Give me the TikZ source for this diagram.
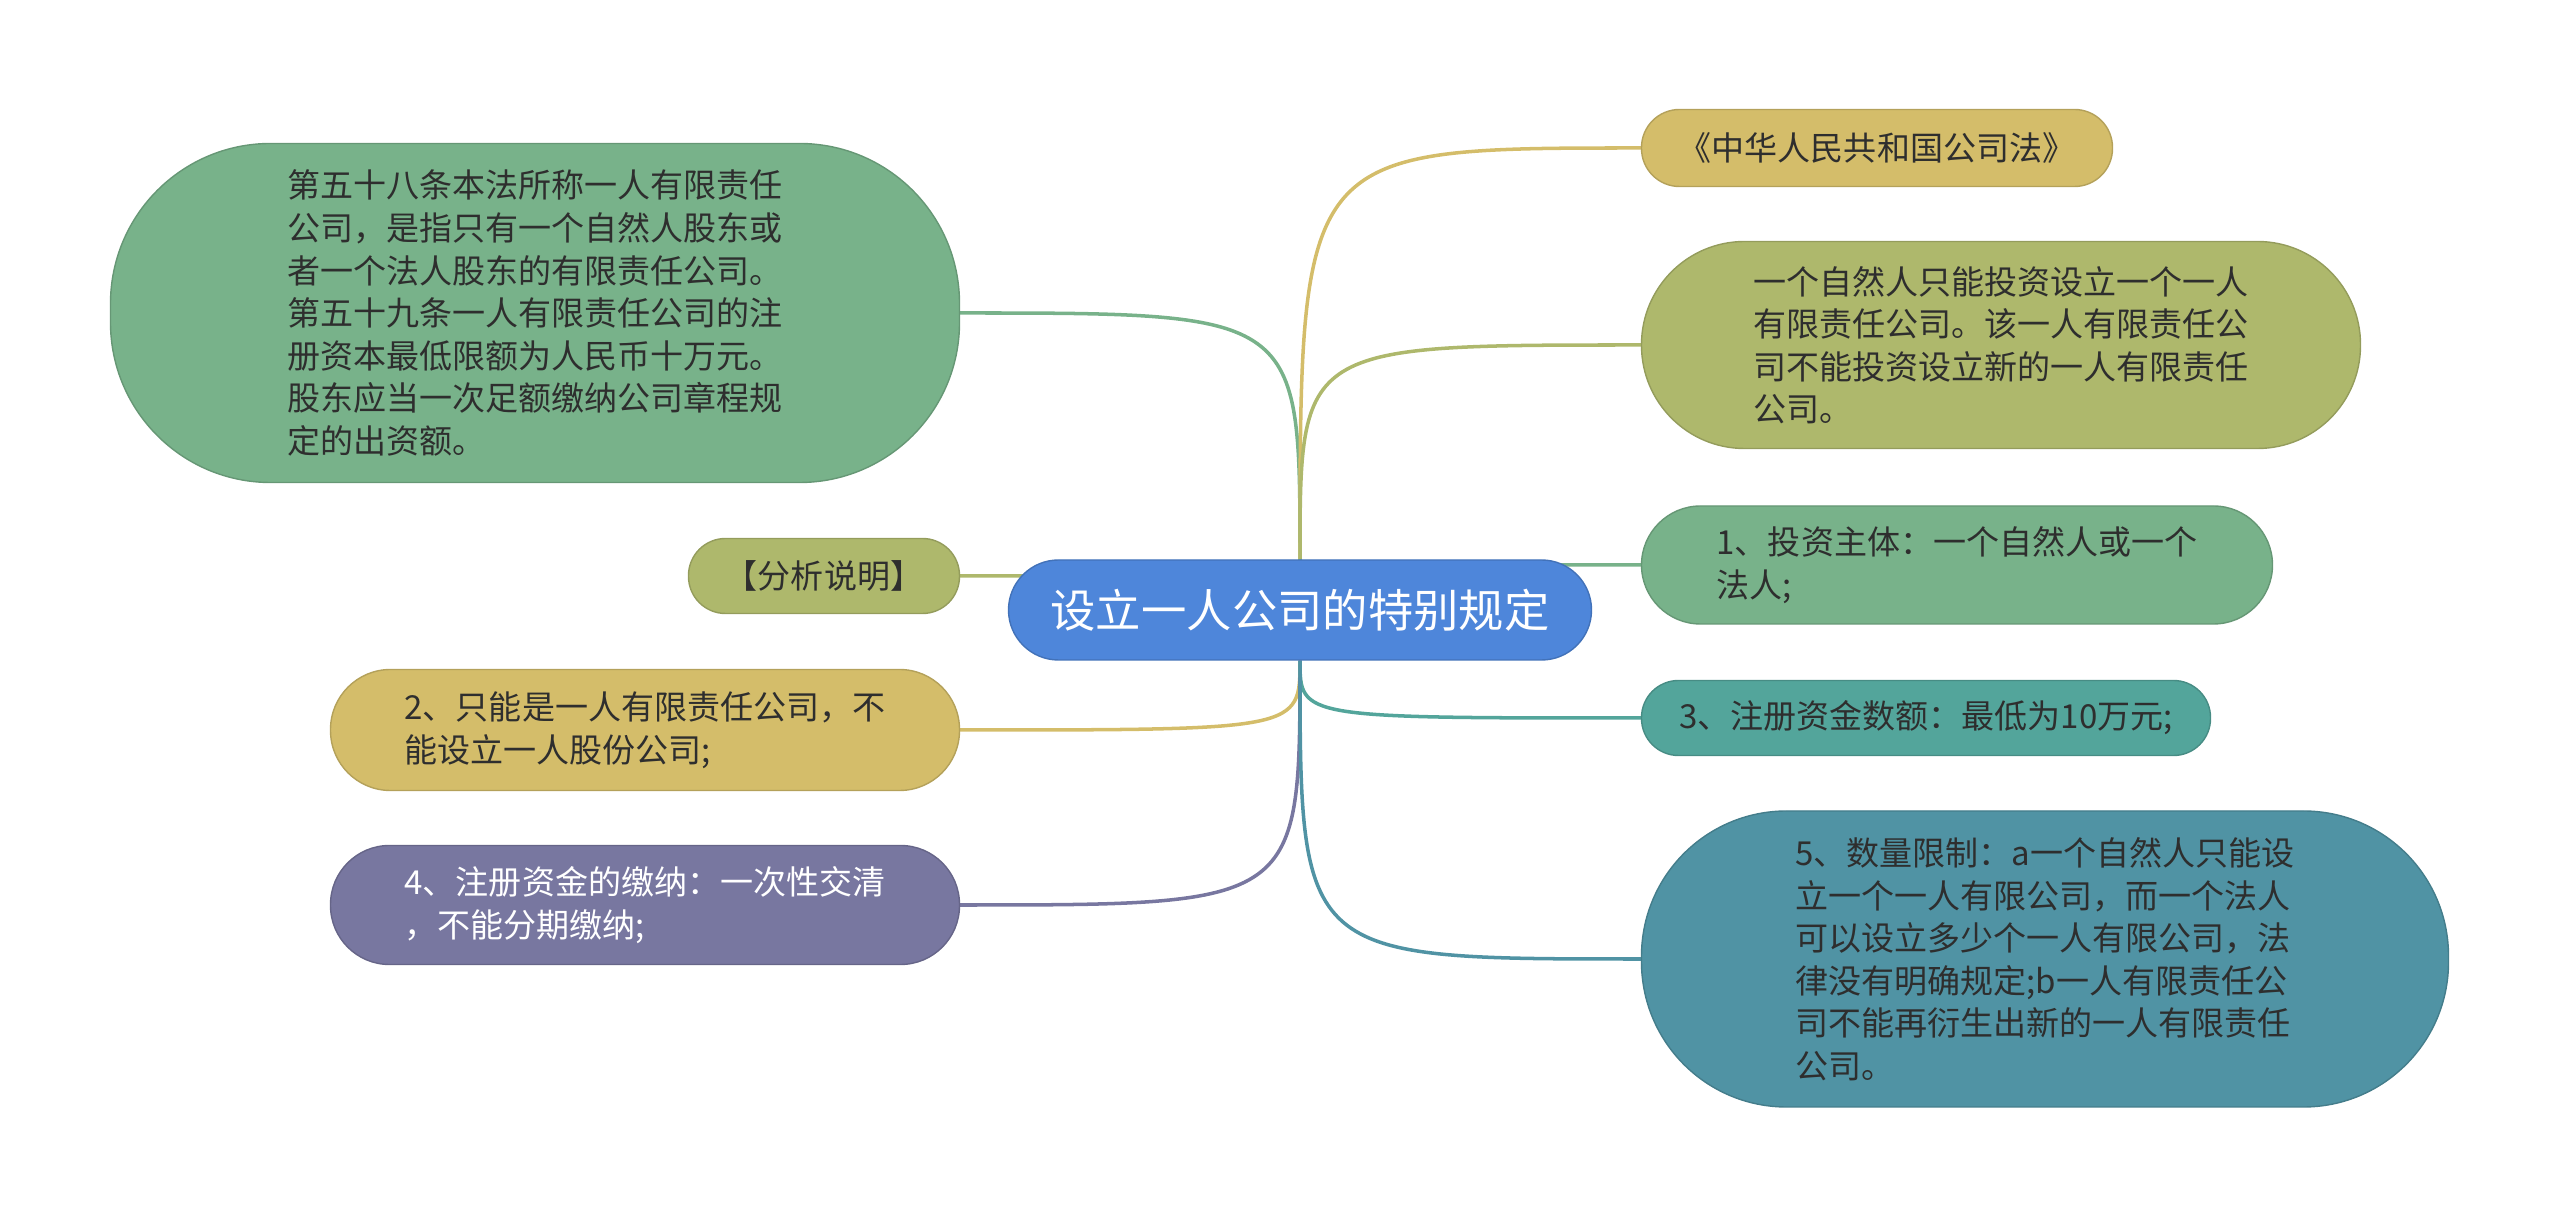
\documentclass[tikz,border=0pt]{standalone}
\usepackage{fontspec}
\setmainfont{Noto Sans CJK SC}
\usepackage{xcolor}
\usepackage{tikz}
\usetikzlibrary{positioning,backgrounds}
\definecolor{cText}{HTML}{2E2E2E}
\definecolor{cTopic}{HTML}{4E86DA}
\definecolor{cGreen}{HTML}{78B28A}
\definecolor{cOlive}{HTML}{AEB86C}
\definecolor{cTan}{HTML}{D4BD6A}
\definecolor{cPurple}{HTML}{7877A0}
\definecolor{cTeal}{HTML}{53A59B}
\definecolor{cSea}{HTML}{5093A4}
\tikzset{
  leaf/.style={thin, inner sep=0pt, align=left, text=cText,
               font=\fontsize{9.4}{12.1}\selectfont},
  topic/.style={leaf, fill=cTopic, draw=cTopic!85!black, text=white,
                font=\fontsize{12.9}{16}\selectfont,
                minimum width=58.3mm, minimum height=10mm, rounded corners=5mm},
  greenblk/.style={leaf, fill=cGreen, draw=cGreen!85!black},
  oliveblk/.style={leaf, fill=cOlive, draw=cOlive!85!black},
  tanblk/.style={leaf, fill=cTan, draw=cTan!85!black},
  purpleblk/.style={leaf, fill=cPurple, draw=cPurple!85!black, text=white},
  tealblk/.style={leaf, fill=cTeal, draw=cTeal!85!black},
  seablk/.style={leaf, fill=cSea, draw=cSea!85!black},
  link/.style={line width=1pt, draw=#1}
}
\begin{document}
\begin{tikzpicture}[x=0.1mm, y=-0.1mm]
\useasboundingbox (0,0) rectangle (2560,1218);
% ----- central topic -----
\node[topic] (topic) at (1300,610) {设立一人公司的特别规定};
% ----- left branches -----
\node[greenblk, minimum width=84.9mm, minimum height=33.9mm, rounded corners=16mm] (l1) at (535,313)
  {第五十八条本法所称一人有限责任\\公司，是指只有一个自然人股东或\\者一个法人股东的有限责任公司。\\第五十九条一人有限责任公司的注\\册资本最低限额为人民币十万元。\\股东应当一次足额缴纳公司章程规\\定的出资额。};
\node[oliveblk, minimum width=27.1mm, minimum height=7.5mm, rounded corners=3.7mm] (l2) at (824,576) {【分析说明】};
\node[tanblk, minimum width=62.9mm, minimum height=12.1mm, rounded corners=6mm] (l3) at (645,730)
  {2、只能是一人有限责任公司，不\\能设立一人股份公司;};
\node[purpleblk, minimum width=62.9mm, minimum height=11.9mm, rounded corners=5.9mm] (l4) at (645,905)
  {4、注册资金的缴纳：一次性交清\\，不能分期缴纳;};
% ----- right branches -----
\node[tanblk, minimum width=47.1mm, minimum height=7.7mm, rounded corners=3.8mm] (r1) at (1877,148) {《中华人民共和国公司法》};
\node[oliveblk, minimum width=71.9mm, minimum height=20.7mm, rounded corners=10.3mm] (r2) at (2001,345)
  {一个自然人只能投资设立一个一人\\有限责任公司。该一人有限责任公\\司不能投资设立新的一人有限责任\\公司。};
\node[greenblk, minimum width=63.1mm, minimum height=11.8mm, rounded corners=5.9mm] (r3) at (1957,565)
  {1、投资主体：一个自然人或一个\\法人;};
\node[tealblk, minimum width=56.9mm, minimum height=7.5mm, rounded corners=3.7mm] (r4) at (1926,718)
  {3、注册资金数额：最低为10万元;};
\node[seablk, minimum width=80.7mm, minimum height=29.6mm, rounded corners=14.5mm] (r5) at (2045,959)
  {5、数量限制：a一个自然人只能设\\立一个一人有限公司，而一个法人\\可以设立多少个一人有限公司，法\\律没有明确规定;b一人有限责任公\\司不能再衍生出新的一人有限责任\\公司。};
% ----- links -----
\begin{scope}[on background layer]
\draw[link=cGreen] (topic.north) .. controls (topic.north |- l1.east) .. (l1.east);
\draw[link=cOlive] (topic.north) .. controls (topic.north |- l2.east) .. (l2.east);
\draw[link=cTan] (topic.south) .. controls (topic.south |- l3.east) .. (l3.east);
\draw[link=cPurple] (topic.south) .. controls (topic.south |- l4.east) .. (l4.east);
\draw[link=cTan] (topic.north) .. controls (topic.north |- r1.west) .. (r1.west);
\draw[link=cOlive] (topic.north) .. controls (topic.north |- r2.west) .. (r2.west);
\draw[link=cGreen] (topic.north) .. controls (topic.north |- r3.west) .. (r3.west);
\draw[link=cTeal] (topic.south) .. controls (topic.south |- r4.west) .. (r4.west);
\draw[link=cSea] (topic.south) .. controls (topic.south |- r5.west) .. (r5.west);
\end{scope}
\end{tikzpicture}
\end{document}
